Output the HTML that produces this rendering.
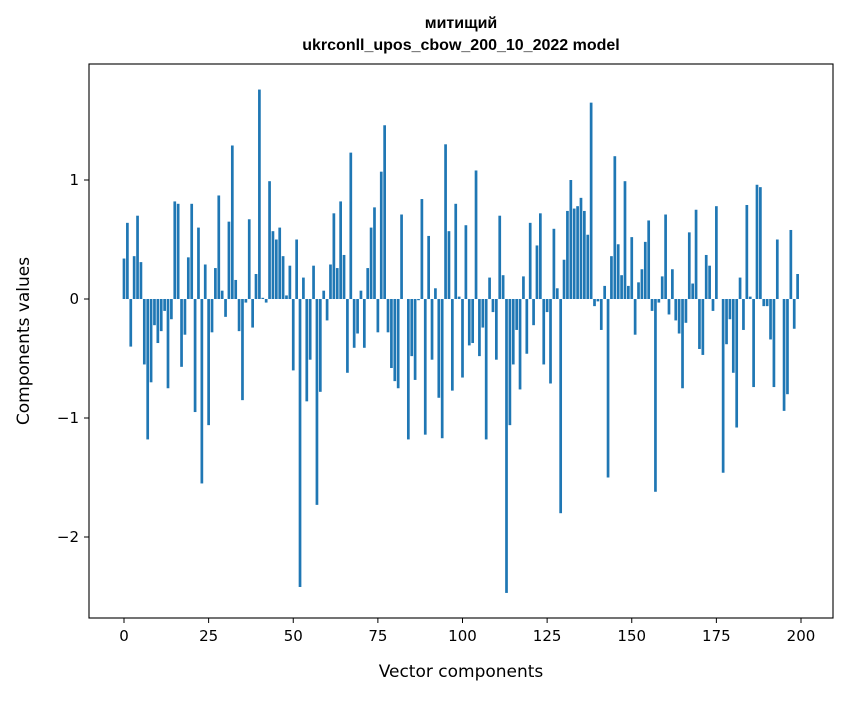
<!DOCTYPE html>
<html><head><meta charset="utf-8"><style>
body{margin:0;background:#fff;width:847px;height:696px;overflow:hidden;font-family:"Liberation Sans","DejaVu Sans",sans-serif}
</style></head><body>
<svg id="chart" width="847" height="696" xmlns="http://www.w3.org/2000/svg" font-family="DejaVu Sans, Liberation Sans, sans-serif">
<text x="461" y="28" text-anchor="middle" font-size="16" font-weight="bold" font-family="Liberation Sans, sans-serif">митищий</text>
<text x="461" y="50" text-anchor="middle" font-size="16" font-weight="bold" font-family="Liberation Sans, sans-serif">ukrconll_upos_cbow_200_10_2022 model</text>
<g id="bars"></g>
<g id="axes"></g>
<rect x="89" y="64" width="744" height="554" fill="none" stroke="#000" stroke-width="1.1"/>
<text x="461" y="677" text-anchor="middle" font-size="17">Vector components</text>
<text transform="translate(29,341) rotate(-90)" text-anchor="middle" font-size="17">Components values</text>
</svg>
<script>
const values = [0.34,0.64,-0.40,0.36,0.70,0.31,-0.55,-1.18,-0.70,-0.22,-0.37,-0.27,-0.10,-0.75,-0.17,0.82,0.80,-0.57,-0.30,0.35,
0.80,-0.95,0.60,-1.55,0.29,-1.06,-0.28,0.26,0.87,0.07,-0.15,0.65,1.29,0.16,-0.27,-0.85,-0.03,0.67,-0.24,0.21,
1.76,0.01,-0.03,0.99,0.57,0.50,0.60,0.36,0.03,0.28,-0.60,0.50,-2.42,0.18,-0.86,-0.51,0.28,-1.73,-0.78,0.07,
-0.18,0.29,0.72,0.26,0.82,0.37,-0.62,1.23,-0.41,-0.29,0.07,-0.41,0.26,0.60,0.77,-0.28,1.07,1.46,-0.28,-0.58,
-0.69,-0.75,0.71,0.00,-1.18,-0.48,-0.68,-0.01,0.84,-1.14,0.53,-0.51,0.09,-0.83,-1.17,1.30,0.57,-0.77,0.80,0.02,
-0.66,0.62,-0.39,-0.37,1.08,-0.48,-0.24,-1.18,0.18,-0.11,-0.51,0.70,0.20,-2.47,-1.06,-0.55,-0.26,-0.76,0.19,-0.46,
0.64,-0.22,0.45,0.72,-0.55,-0.11,-0.71,0.59,0.09,-1.80,0.33,0.74,1.00,0.76,0.78,0.85,0.74,0.54,1.65,-0.06,
-0.02,-0.26,0.11,-1.50,0.36,1.20,0.46,0.20,0.99,0.11,0.52,-0.30,0.14,0.25,0.48,0.66,-0.10,-1.62,-0.03,0.19,
0.71,-0.13,0.25,-0.18,-0.29,-0.75,-0.20,0.56,0.13,0.75,-0.42,-0.47,0.37,0.28,-0.10,0.78,0.00,-1.46,-0.38,-0.17,
-0.62,-1.08,0.18,-0.26,0.79,0.02,-0.74,0.96,0.94,-0.06,-0.06,-0.34,-0.74,0.50,0.00,-0.94,-0.80,0.58,-0.25,0.21];
const xTicks = [0,25,50,75,100,125,150,175,200];
const yTicks = [-2,-1,0,1];
const yTickLabels = ["\u22122","\u22121","0","1"];
const NS="http://www.w3.org/2000/svg";
function xs(v){return 124+v*(801-124)/200;}
function ys(v){return 299-v*119;}
const bars=document.getElementById('bars');
values.forEach((v,i)=>{
  const r=document.createElementNS(NS,'rect');
  const x0=xs(i-0.4), x1=xs(i+0.4);
  r.setAttribute('x',x0);r.setAttribute('width',x1-x0);
  r.setAttribute('y',Math.min(ys(v),ys(0)));r.setAttribute('height',Math.abs(ys(v)-ys(0)));
  r.setAttribute('fill','#1f77b4');
  
  
  bars.appendChild(r);
});
const axes=document.getElementById('axes');
xTicks.forEach(t=>{
  const l=document.createElementNS(NS,'line');
  l.setAttribute('x1',xs(t));l.setAttribute('x2',xs(t));l.setAttribute('y1',618);l.setAttribute('y2',623);l.setAttribute('stroke','#000');
  
  
  axes.appendChild(l);
  const tx=document.createElementNS(NS,'text');
  tx.setAttribute('x',xs(t));tx.setAttribute('y',641);tx.setAttribute('text-anchor','middle');tx.setAttribute('font-size','15');
  tx.textContent=t;
  
  
  axes.appendChild(tx);
});
yTicks.forEach((t,i)=>{
  const l=document.createElementNS(NS,'line');
  l.setAttribute('x1',84);l.setAttribute('x2',89);l.setAttribute('y1',ys(t));l.setAttribute('y2',ys(t));l.setAttribute('stroke','#000');
  
  
  axes.appendChild(l);
  const tx=document.createElementNS(NS,'text');
  tx.setAttribute('x',79);tx.setAttribute('y',ys(t)+5);tx.setAttribute('text-anchor','end');tx.setAttribute('font-size','15');
  tx.textContent=yTickLabels[i];
  
  
  axes.appendChild(tx);
});
</script>
</body></html>
